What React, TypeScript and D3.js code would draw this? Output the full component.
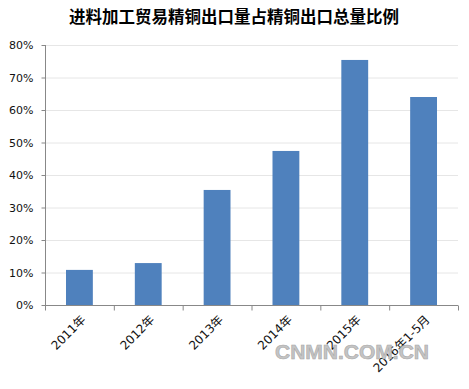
import React, { useEffect, useRef } from "react";
import * as d3 from "d3";

const categories = ["2011年", "2012年", "2013年", "2014年", "2015年", "2016年1-5月"];
const shares = [0.108, 0.129, 0.354, 0.474, 0.754, 0.64];
const yTicks = [0, 0.1, 0.2, 0.3, 0.4, 0.5, 0.6, 0.7, 0.8];
const title = "进料加工贸易精铜出口量占精铜出口总量比例";

export default function App() {
  const svgRef = useRef<SVGSVGElement>(null);

  useEffect(() => {
    const width = 469;
    const height = 389;
    const margin = { top: 45, right: 11, bottom: 84, left: 45 };

    d3.select(svgRef.current).selectAll("*").remove();
    const svg = d3.select(svgRef.current);

    svg.append("rect").attr("width", width).attr("height", height).attr("fill", "#fff");

    const x = d3
      .scaleBand()
      .domain(categories)
      .range([margin.left, width - margin.right])
      .paddingInner(0.61)
      .paddingOuter(0.305);

    const y = d3
      .scaleLinear()
      .domain([0, 0.8])
      .range([height - margin.bottom, margin.top]);

    // gridlines
    svg
      .selectAll("gridLines")
      .data(yTicks.slice(1))
      .join("line")
      .attr("x1", margin.left)
      .attr("x2", width - margin.right)
      .attr("y1", (d) => y(d) + 0.5)
      .attr("y2", (d) => y(d) + 0.5)
      .attr("stroke", "#e6e6e6");

    // bars
    svg
      .selectAll("bars")
      .data(shares)
      .join("rect")
      .attr("x", (_, i) => x(categories[i]) as number)
      .attr("y", (d) => y(d))
      .attr("width", x.bandwidth())
      .attr("height", (d) => y(0) - y(d))
      .attr("fill", "#4f81bd");

    // y axis
    const yAxis = svg
      .append("g")
      .attr("transform", `translate(${margin.left + 0.5},0)`)
      .call(
        d3
          .axisLeft(y)
          .tickValues(yTicks)
          .tickFormat(d3.format(".0%"))
          .tickSize(5)
          .tickPadding(7)
      );
    yAxis.select(".domain").attr("stroke", "#888").attr("d", `M0,${margin.top}V${y(0)}`);
    yAxis.selectAll(".tick line").attr("stroke", "#888").attr("x2", -4);
    yAxis
      .selectAll(".tick text")
      .attr("fill", "#111")
      .style("font-family", "Verdana, 'DejaVu Sans', sans-serif")
      .style("font-size", "11px");

    // x axis
    const step = x.step();
    const xAxis = svg.append("g").attr("transform", `translate(0,${y(0) + 0.5})`);
    xAxis
      .append("line")
      .attr("x1", margin.left)
      .attr("x2", width - margin.right)
      .attr("stroke", "#888");
    xAxis
      .selectAll("xTicks")
      .data(d3.range(categories.length + 1))
      .join("line")
      .attr("x1", (i) => margin.left + i * step + 0.5)
      .attr("x2", (i) => margin.left + i * step + 0.5)
      .attr("y1", 0)
      .attr("y2", 5)
      .attr("stroke", "#888");
    xAxis
      .selectAll("xLabels")
      .data(categories)
      .join("text")
      .text((d) => d)
      .attr(
        "transform",
        (d) => `translate(${(x(d) as number) + x.bandwidth() / 2 + 4},12) rotate(-45)`
      )
      .attr("text-anchor", "end")
      .attr("dy", "0.35em")
      .attr("fill", "#111")
      .style("font-family", "Verdana, 'DejaVu Sans', 'Noto Sans CJK SC', sans-serif")
      .style("font-size", "12px");

    // title
    svg
      .append("text")
      .text(title)
      .attr("x", 234)
      .attr("y", 23)
      .attr("text-anchor", "middle")
      .attr("fill", "#000")
      .style("font-family", "'Noto Sans CJK SC', sans-serif")
      .style("font-weight", "bold")
      .style("font-size", "16.5px");

    // watermark
    svg
      .append("text")
      .text("CNMN.COM.CN")
      .attr("x", 352)
      .attr("y", 359)
      .attr("text-anchor", "middle")
      .attr("fill", "#c4c4c4")
      .attr("stroke", "#a8a8a8")
      .attr("stroke-width", 0.6)
      .style("font-family", "'Liberation Sans', Arial, sans-serif")
      .style("font-weight", "bold")
      .style("font-size", "21px");
  }, []);

  return (
    <svg
      ref={svgRef}
      width={469}
      height={389}
      style={{ position: "absolute", left: 0, top: 0 }}
    ></svg>
  );
}
